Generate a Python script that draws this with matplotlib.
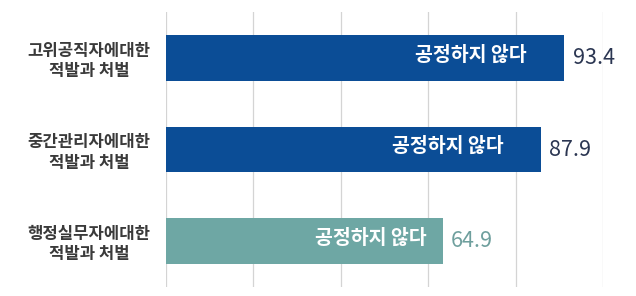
import matplotlib.pyplot as plt
import numpy as np

plt.rcParams['font.family'] = ['Noto Sans CJK KR', 'DejaVu Sans']

categories = ['고위공직자에대한\n적발과 처벌', '중간관리자에대한\n적발과 처벌', '행정실무자에대한\n적발과 처벌']
values = [93.4, 87.9, 64.9]
bar_label = '공정하지 않다'

bar_colors = ['#0b4d96', '#0b4d96', '#6ea7a4']
value_colors = ['#2b3652', '#2b3652', '#6e9f9d']
inner_pad = [38, 37, 16]  # px from bar end to inner label

fig = plt.figure(figsize=(6.36, 2.96), dpi=100)
ax = fig.add_axes([166/636, 9/296, 437/636, 275/296])

y = np.arange(len(categories))
ax.barh(y, values, height=0.5, color=bar_colors, zorder=2)

xmax = 102.5
ax.set_xlim(0, xmax)
ax.set_ylim(2.5, -0.5)
ax.set_xticks(np.linspace(0, xmax, 6))
ax.set_xticklabels([])
ax.grid(axis='x', color='#d4d4d4', linewidth=0.9, zorder=0)
ax.tick_params(length=0)

ax.set_yticks(y)
ax.set_yticklabels(categories, fontsize=12, fontweight='bold', color='#3a3a3a', linespacing=1.15)
for t in ax.get_yticklabels():
    t.set_multialignment('center')
    t.set_horizontalalignment('center')
ax.tick_params(axis='y', pad=77*0.72)

for s in ax.spines.values():
    s.set_visible(False)

for i, v in enumerate(values):
    ax.annotate(bar_label, (v, i), xytext=(-inner_pad[i]*0.72, 2), textcoords='offset points',
                ha='right', va='center', color='white', fontsize=14, fontweight='bold')
    ax.annotate(f'{v:.1f}', (v, i), xytext=(6, 0), textcoords='offset points',
                ha='left', va='center', color=value_colors[i], fontsize=15.5, fontweight='medium')

plt.savefig('out.png', dpi=100)
